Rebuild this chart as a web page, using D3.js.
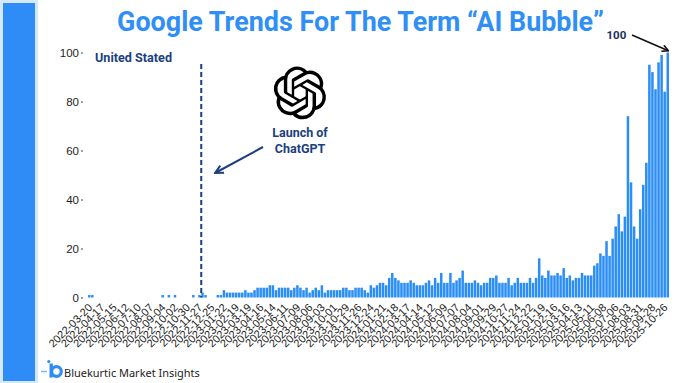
<!DOCTYPE html>
<html>
<head>
<meta charset="utf-8">
<script src="https://cdn.jsdelivr.net/npm/d3@7"></script>
<style>
  body { margin: 0; background: #fff; }
  svg { display: block; }
</style>
</head>
<body>
<svg id="chart" width="680" height="383"></svg>
<script>
// weekly Google Trends interest, US, "AI bubble" (weeks starting 2022-03-20)
const firstWeek = "2022-03-20";
const interest = [
  1,1,0,0,0,0,0,0,0,0, 0,0,0,0,0,0,0,0,0,0,
  0,0,0,0,1,0,1,0,1,0, 0,0,0,0,1,0,1,2,1,0,
  0,0,1,1,3,
  2,2,2,2,2,2,3,2,2,3, 4,4,4,4,5,5,3,4,4,4,
  4,3,4,5,4,3,4,2,3,4, 3,5,2,3,3,3,3,3,4,4,
  3,3,4,4,4,3,2,5,4,
  5,6,6,5,8,10,8,7,6,6, 6,7,6,5,5,5,6,7,5,8,
  6,10,6,6,10,6,7,8,11,6, 6,6,7,6,5,6,6,8,8,9,
  6,6,6,8,5,6,8,6,6,
  6,8,6,8,16,9,8,11,9,9, 10,9,12,8,9,7,8,8,
  10,9,9,9,13,14,18,17,23,17, 24,29,34,27,33,74,47,29,24,36,
  46,55,95,92,85,96,99,84,100
];
const tickLabels = [
  "2022-03-20","2022-04-17","2022-05-15","2022-06-12","2022-07-10","2022-08-07",
  "2022-09-04","2022-10-02","2022-10-30","2022-11-27","2022-12-25","2023-01-22",
  "2023-02-19","2023-03-19","2023-04-16","2023-05-14","2023-06-11","2023-07-09",
  "2023-08-06","2023-09-03","2023-10-01","2023-10-29","2023-11-26","2023-12-24",
  "2024-01-21","2024-02-18","2024-03-17","2024-04-14","2024-05-12","2024-06-09",
  "2024-07-07","2024-08-04","2024-09-01","2024-09-29","2024-10-27","2024-11-24",
  "2024-12-22","2025-01-19","2025-02-16","2025-03-16","2025-04-13","2025-05-11",
  "2025-06-08","2025-07-06","2025-08-03","2025-08-31","2025-09-28","2025-10-26"
];
const yTicks = [0, 20, 40, 60, 80, 100];
const launchWeek = "2022-11-27";

const fmt = d3.utcFormat("%Y-%m-%d");
const start = d3.utcParse("%Y-%m-%d")(firstWeek);
const weeks = interest.map((v, i) => fmt(d3.utcDay.offset(start, 7 * i)));
const data = weeks.map((w, i) => ({week: w, value: interest[i]}));

const width = 680, height = 383;
const margin = {top: 52.5, right: 11, bottom: 85.5, left: 88};

const svg = d3.select("#chart");
const blue = "#2b8ef6", navy = "#1b3f7e";

// fits a text element's font size to a target width
const fitWidth = (sel, target) => {
  const n = sel.node();
  const fs = parseFloat(sel.attr("font-size"));
  sel.attr("font-size", fs * target / n.getComputedTextLength());
};

// left decorative strip
svg.append("rect").attr("x", 0).attr("y", 0).attr("width", 38).attr("height", height).attr("fill", "#d3e9fb");
svg.append("rect").attr("x", 3).attr("y", 3).attr("width", 32).attr("height", height - 5).attr("fill", "#2f8cf6");

const x = d3.scaleBand()
  .domain(weeks)
  .range([margin.left, width - margin.right])
  .paddingInner(0.18)
  .paddingOuter(0);

const y = d3.scaleLinear()
  .domain([0, 100])
  .range([height - margin.bottom, margin.top]);

// bars
svg.append("g")
  .selectAll("rect")
  .data(data.filter(d => d.value > 0))
  .join("rect")
  .attr("x", d => x(d.week))
  .attr("width", x.bandwidth())
  .attr("y", d => y(d.value))
  .attr("height", d => y(0) - y(d.value))
  .attr("fill", blue);

// y axis
svg.append("g")
  .attr("transform", `translate(${margin.left - 5},0)`)
  .call(d3.axisLeft(y).tickValues(yTicks).tickSize(2).tickPadding(2))
  .call(g => g.select(".domain").remove())
  .call(g => g.selectAll("line").attr("stroke", "#444"))
  .call(g => g.selectAll("text")
    .attr("font-family", "Liberation Sans, Arial, sans-serif")
    .attr("font-size", 11.5)
    .attr("fill", "#222"));

// x axis, rotated week labels
svg.append("g")
  .attr("transform", `translate(0,${height - margin.bottom})`)
  .call(d3.axisBottom(x).tickValues(tickLabels).tickSize(0))
  .call(g => g.select(".domain").remove())
  .call(g => g.selectAll("text")
    .attr("font-family", "Liberation Sans, Arial, sans-serif")
    .attr("font-size", 11)
    .attr("fill", "#222")
    .attr("text-anchor", "end")
    .attr("x", 0).attr("y", 0).attr("dy", "0.35em")
    .attr("transform", "translate(1,8) rotate(-45)"));

// title
const title = svg.append("text")
  .attr("x", 360.5).attr("y", 31)
  .attr("text-anchor", "middle")
  .attr("font-family", "Roboto, sans-serif")
  .attr("font-weight", 700)
  .attr("font-size", 24)
  .attr("fill", "#2f8ff6")
  .text("Google Trends For The Term “AI Bubble”");
fitWidth(title, 487);

// arrow markers
const defs = svg.append("defs");
const marker = (id, color) => defs.append("marker")
  .attr("id", id).attr("viewBox", "0 0 10 10")
  .attr("refX", 8).attr("refY", 5)
  .attr("markerWidth", 5).attr("markerHeight", 5)
  .attr("orient", "auto-start-reverse")
  .append("path").attr("d", "M1,1 L9,5 L1,9").attr("fill", "none")
  .attr("stroke", color).attr("stroke-width", 2);
marker("arrNavy", navy);
marker("arrBlack", "#111");

svg.append("text")
  .attr("x", 95).attr("y", 61.5)
  .attr("font-family", "Roboto, sans-serif")
  .attr("font-weight", 700).attr("font-size", 12.5)
  .attr("fill", navy)
  .text("United Stated")
  .call(s => fitWidth(s, 77));

// ChatGPT launch line
const lx = x(launchWeek) + x.step();
svg.append("line")
  .attr("x1", lx).attr("x2", lx)
  .attr("y1", 64).attr("y2", y(0))
  .attr("stroke", navy).attr("stroke-width", 2)
  .attr("stroke-dasharray", "5,3");

// OpenAI mark (24x24 glyph, scaled)
svg.append("path")
  .attr("transform", "translate(273.5,66.5) scale(2.2)")
  .attr("fill", "#000")
  .attr("d", "M22.2819 9.8211a5.9847 5.9847 0 0 0-.5157-4.9108 6.0462 6.0462 0 0 0-6.5098-2.9A6.0651 6.0651 0 0 0 4.9807 4.1818a5.9847 5.9847 0 0 0-3.9977 2.9 6.0462 6.0462 0 0 0 .7427 7.0966 5.98 5.98 0 0 0 .511 4.9107 6.051 6.051 0 0 0 6.5146 2.9001A5.9847 5.9847 0 0 0 13.2599 24a6.0557 6.0557 0 0 0 5.7718-4.2058 5.9894 5.9894 0 0 0 3.9977-2.9001 6.0557 6.0557 0 0 0-.7475-7.0729zm-9.022 12.6081a4.4755 4.4755 0 0 1-2.8764-1.0408l.1419-.0804 4.7783-2.7582a.7948.7948 0 0 0 .3927-.6813v-6.7369l2.02 1.1686a.071.071 0 0 1 .038.052v5.5826a4.504 4.504 0 0 1-4.4945 4.4944zm-9.6607-4.1254a4.4708 4.4708 0 0 1-.5346-3.0137l.142.0852 4.783 2.7582a.7712.7712 0 0 0 .7806 0l5.8428-3.3685v2.3324a.0804.0804 0 0 1-.0332.0615L9.74 19.9502a4.4992 4.4992 0 0 1-6.1408-1.6464zM2.3408 7.8956a4.485 4.485 0 0 1 2.3655-1.9728V11.6a.7664.7664 0 0 0 .3879.6765l5.8144 3.3543-2.0201 1.1685a.0757.0757 0 0 1-.071 0l-4.8303-2.7865A4.504 4.504 0 0 1 2.3408 7.872zm16.5963 3.8558L13.1038 8.364 15.1192 7.2a.0757.0757 0 0 1 .071 0l4.8303 2.7913a4.4944 4.4944 0 0 1-.6765 8.1042v-5.6772a.79.79 0 0 0-.407-.667zm2.0107-3.0231l-.142-.0852-4.7735-2.7818a.7759.7759 0 0 0-.7854 0L9.409 9.2297V6.8974a.0662.0662 0 0 1 .0284-.0615l4.8303-2.7866a4.4992 4.4992 0 0 1 6.6802 4.66zM8.3065 12.863l-2.02-1.1638a.0804.0804 0 0 1-.038-.0567V6.0742a4.4992 4.4992 0 0 1 7.3757-3.4537l-.142.0805L8.704 5.459a.7948.7948 0 0 0-.3927.6813zm1.0976-2.3654l2.602-1.4998 2.6069 1.4998v2.9994l-2.5974 1.4997-2.6067-1.4997Z");

svg.append("text")
  .attr("x", 300).attr("y", 136.7)
  .attr("text-anchor", "middle")
  .attr("font-family", "Roboto, sans-serif")
  .attr("font-weight", 700).attr("font-size", 12.5)
  .attr("fill", navy)
  .text("Launch of");
svg.append("text")
  .attr("x", 300).attr("y", 152.7)
  .attr("text-anchor", "middle")
  .attr("font-family", "Roboto, sans-serif")
  .attr("font-weight", 700).attr("font-size", 12.5)
  .attr("fill", navy)
  .text("ChatGPT");

svg.append("line")
  .attr("x1", 263).attr("y1", 147).attr("x2", 216).attr("y2", 172.5)
  .attr("stroke", navy).attr("stroke-width", 2)
  .attr("marker-end", "url(#arrNavy)");

// peak annotation
const peak = data[data.length - 1];
svg.append("text")
  .attr("x", 606.5).attr("y", 39)
  .attr("font-family", "Roboto, sans-serif")
  .attr("font-weight", 700).attr("font-size", 11.5)
  .attr("fill", "#1c2f5a")
  .text(peak.value);
svg.append("line")
  .attr("x1", 632).attr("y1", 35)
  .attr("x2", x(peak.week) + x.bandwidth() / 2).attr("y2", y(peak.value) - 2)
  .attr("stroke", "#111").attr("stroke-width", 1.6)
  .attr("marker-end", "url(#arrBlack)");

// footer brand
const brand = svg.append("g");
brand.append("line").attr("x1", 41).attr("x2", 47).attr("y1", 371.5).attr("y2", 371.5)
  .attr("stroke", "#7fb8f7").attr("stroke-width", 1.5);
brand.append("circle").attr("cx", 48.8).attr("cy", 361.5).attr("r", 1.6).attr("fill", "#2f8cf6");
brand.append("rect").attr("x", 49.5).attr("y", 363.5).attr("width", 3.4).attr("height", 14).attr("fill", "#2f8cf6");
brand.append("circle").attr("cx", 56.5).attr("cy", 371.5).attr("r", 4.8)
  .attr("fill", "none").attr("stroke", "#2f8cf6").attr("stroke-width", 3.2);
svg.append("text")
  .attr("x", 64).attr("y", 376.5)
  .attr("font-family", "Noto Sans, sans-serif")
  .attr("font-size", 12)
  .attr("fill", "#222")
  .text("Bluekurtic Market Insights")
  .call(s => fitWidth(s, 136));
</script>
</body>
</html>
